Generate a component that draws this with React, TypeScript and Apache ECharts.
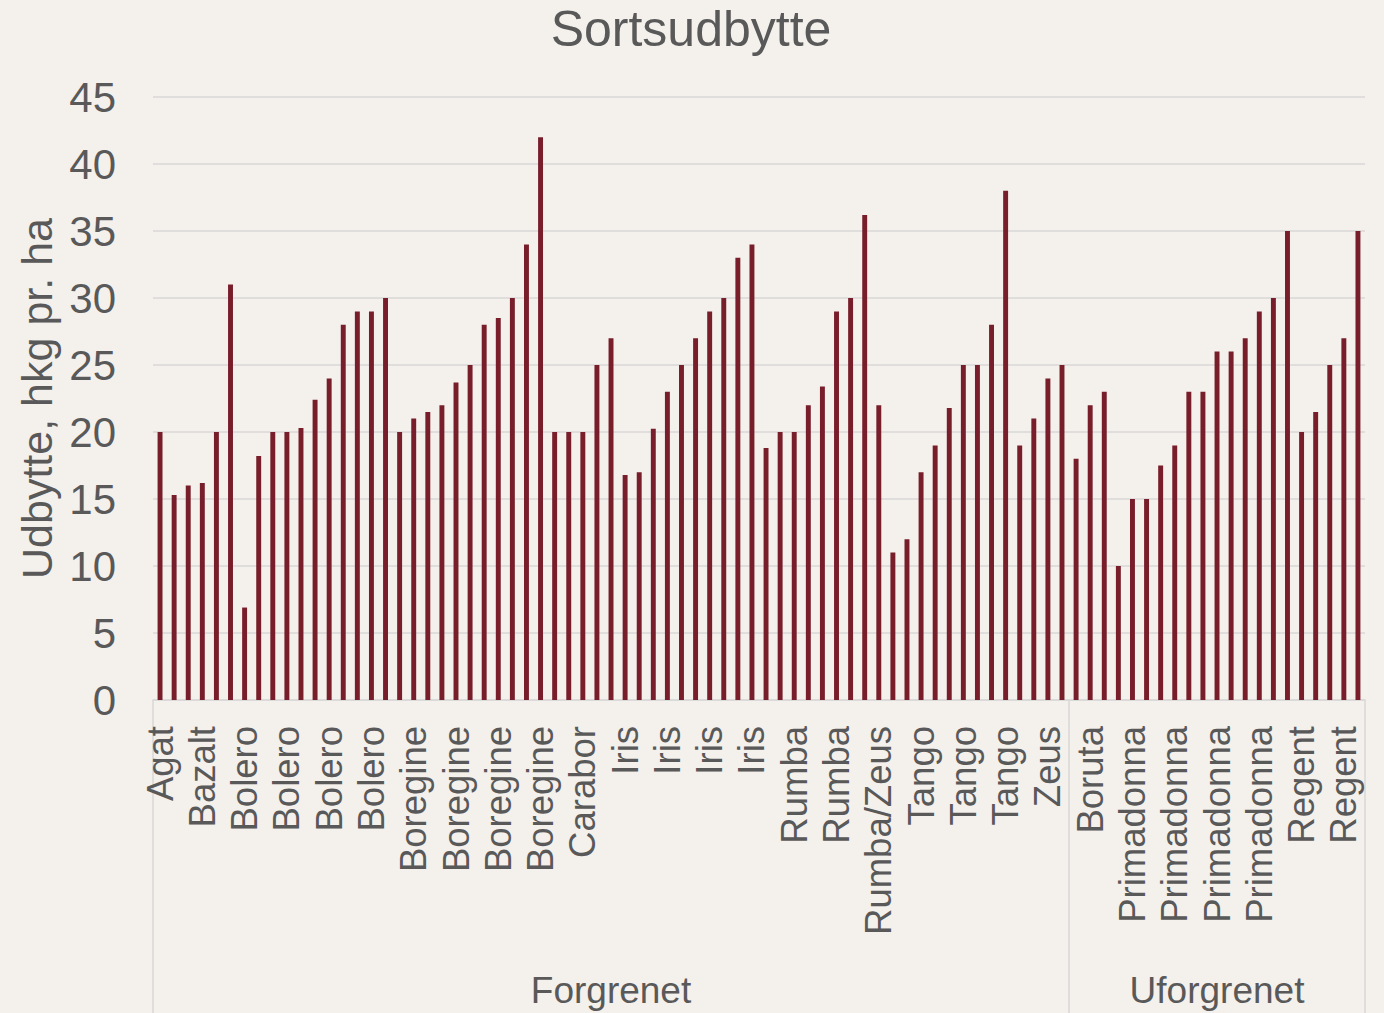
import React, { useEffect, useRef } from "react";
import * as echarts from "echarts";

const categories: string[] = [
  "Agat",
  "Bazalt", "Bazalt", "Bazalt", "Bazalt", "Bazalt",
  "Bolero", "Bolero", "Bolero", "Bolero", "Bolero", "Bolero", "Bolero", "Bolero", "Bolero", "Bolero", "Bolero",
  "Boregine", "Boregine", "Boregine", "Boregine", "Boregine", "Boregine", "Boregine", "Boregine", "Boregine", "Boregine", "Boregine",
  "Carabor", "Carabor", "Carabor", "Carabor", "Carabor",
  "Iris", "Iris", "Iris", "Iris", "Iris", "Iris", "Iris", "Iris", "Iris", "Iris",
  "Rumba", "Rumba", "Rumba", "Rumba", "Rumba", "Rumba", "Rumba", "Rumba",
  "Rumba/Zeus",
  "Tango", "Tango", "Tango", "Tango", "Tango", "Tango", "Tango", "Tango", "Tango",
  "Zeus", "Zeus", "Zeus", "Zeus",
  "Boruta", "Boruta", "Boruta",
  "Primadonna", "Primadonna", "Primadonna", "Primadonna", "Primadonna", "Primadonna", "Primadonna", "Primadonna", "Primadonna", "Primadonna", "Primadonna", "Primadonna", "Primadonna",
  "Regent", "Regent", "Regent", "Regent", "Regent",
];

const yieldValues: number[] = [
  20,
  15.3, 16, 16.2, 20, 31,
  6.9, 18.2, 20, 20, 20.3, 22.4, 24, 28, 29, 29, 30,
  20, 21, 21.5, 22, 23.7, 25, 28, 28.5, 30, 34, 42,
  20, 20, 20, 25, 27,
  16.8, 17, 20.25, 23, 25, 27, 29, 30, 33, 34,
  18.8, 20, 20, 22, 23.4, 29, 30, 36.2,
  22,
  11, 12, 17, 19, 21.8, 25, 25, 28, 38,
  19, 21, 24, 25,
  18, 22, 23,
  10, 15, 15, 17.5, 19, 23, 23, 26, 26, 27, 29, 30, 35,
  20, 21.5, 25, 27, 35,
];

const groupNames: string[] = ["Forgrenet", "Uforgrenet"];
const groupSizes: number[] = [65, 21];

const yTicks = { min: 0, max: 45, interval: 5 };

const TEXT = "#595959";
const GRID = "#D9D9D9";
const FONT = "'Liberation Sans', Arial, sans-serif";

export default function App() {
  const ref = useRef<HTMLDivElement>(null);

  useEffect(() => {
    if (!ref.current) return;
    const chart = echarts.init(ref.current, undefined, { renderer: "svg" });

    const groupStarts: number[] = [];
    const groupCenters: Record<number, string> = {};
    let acc = 0;
    groupSizes.forEach((s, gi) => {
      groupStarts.push(acc);
      groupCenters[acc + Math.floor(s / 2)] = groupNames[gi];
      acc += s;
    });

    chart.setOption({
      animation: false,
      backgroundColor: "#F4F0EC",
      textStyle: { fontFamily: FONT },
      title: {
        text: "Sortsudbytte",
        left: 686,
        textAlign: "center",
        top: -1,
        textStyle: { color: TEXT, fontSize: 50, fontWeight: "normal", fontFamily: FONT },
      },
      grid: { left: 153, right: 19, top: 97, bottom: 313, containLabel: false },
      xAxis: [
        {
          type: "category",
          data: categories,
          axisLine: { show: true, lineStyle: { color: GRID, width: 1.5 } },
          axisTick: {
            show: true,
            length: 313,
            interval: (i: number) => groupStarts.includes(i),
            lineStyle: { color: GRID, width: 1.5 },
          },
          axisLabel: {
            interval: 2,
            rotate: 90,
            margin: 26,
            color: TEXT,
            fontSize: 36.5,
            fontFamily: FONT,
          },
        },
        {
          type: "category",
          data: categories,
          position: "bottom",
          axisLine: { show: false },
          axisTick: { show: false },
          axisLabel: {
            interval: 0,
            margin: 272,
            color: TEXT,
            fontSize: 37,
            fontFamily: FONT,
            formatter: (_v: string, i: number) => groupCenters[i] ?? "",
          },
        },
      ],
      yAxis: {
        type: "value",
        min: yTicks.min,
        max: yTicks.max,
        interval: yTicks.interval,
        name: "Udbytte, hkg pr. ha",
        nameLocation: "middle",
        nameGap: 95,
        nameTextStyle: { color: TEXT, fontSize: 43, fontFamily: FONT },
        axisLine: { show: false },
        axisTick: { show: false },
        axisLabel: { color: TEXT, fontSize: 42, margin: 37, fontFamily: FONT },
        splitLine: { show: true, lineStyle: { color: GRID, width: 1.5 } },
      },
      series: [
        {
          type: "bar",
          data: yieldValues,
          barWidth: "35%",
          itemStyle: { color: "#771E2A" },
        },
      ],
    });

    return () => chart.dispose();
  }, []);

  return (
    <div
      ref={ref}
      style={{ position: "fixed", left: 0, top: 0, width: 1384, height: 1013 }}
    />
  );
}
